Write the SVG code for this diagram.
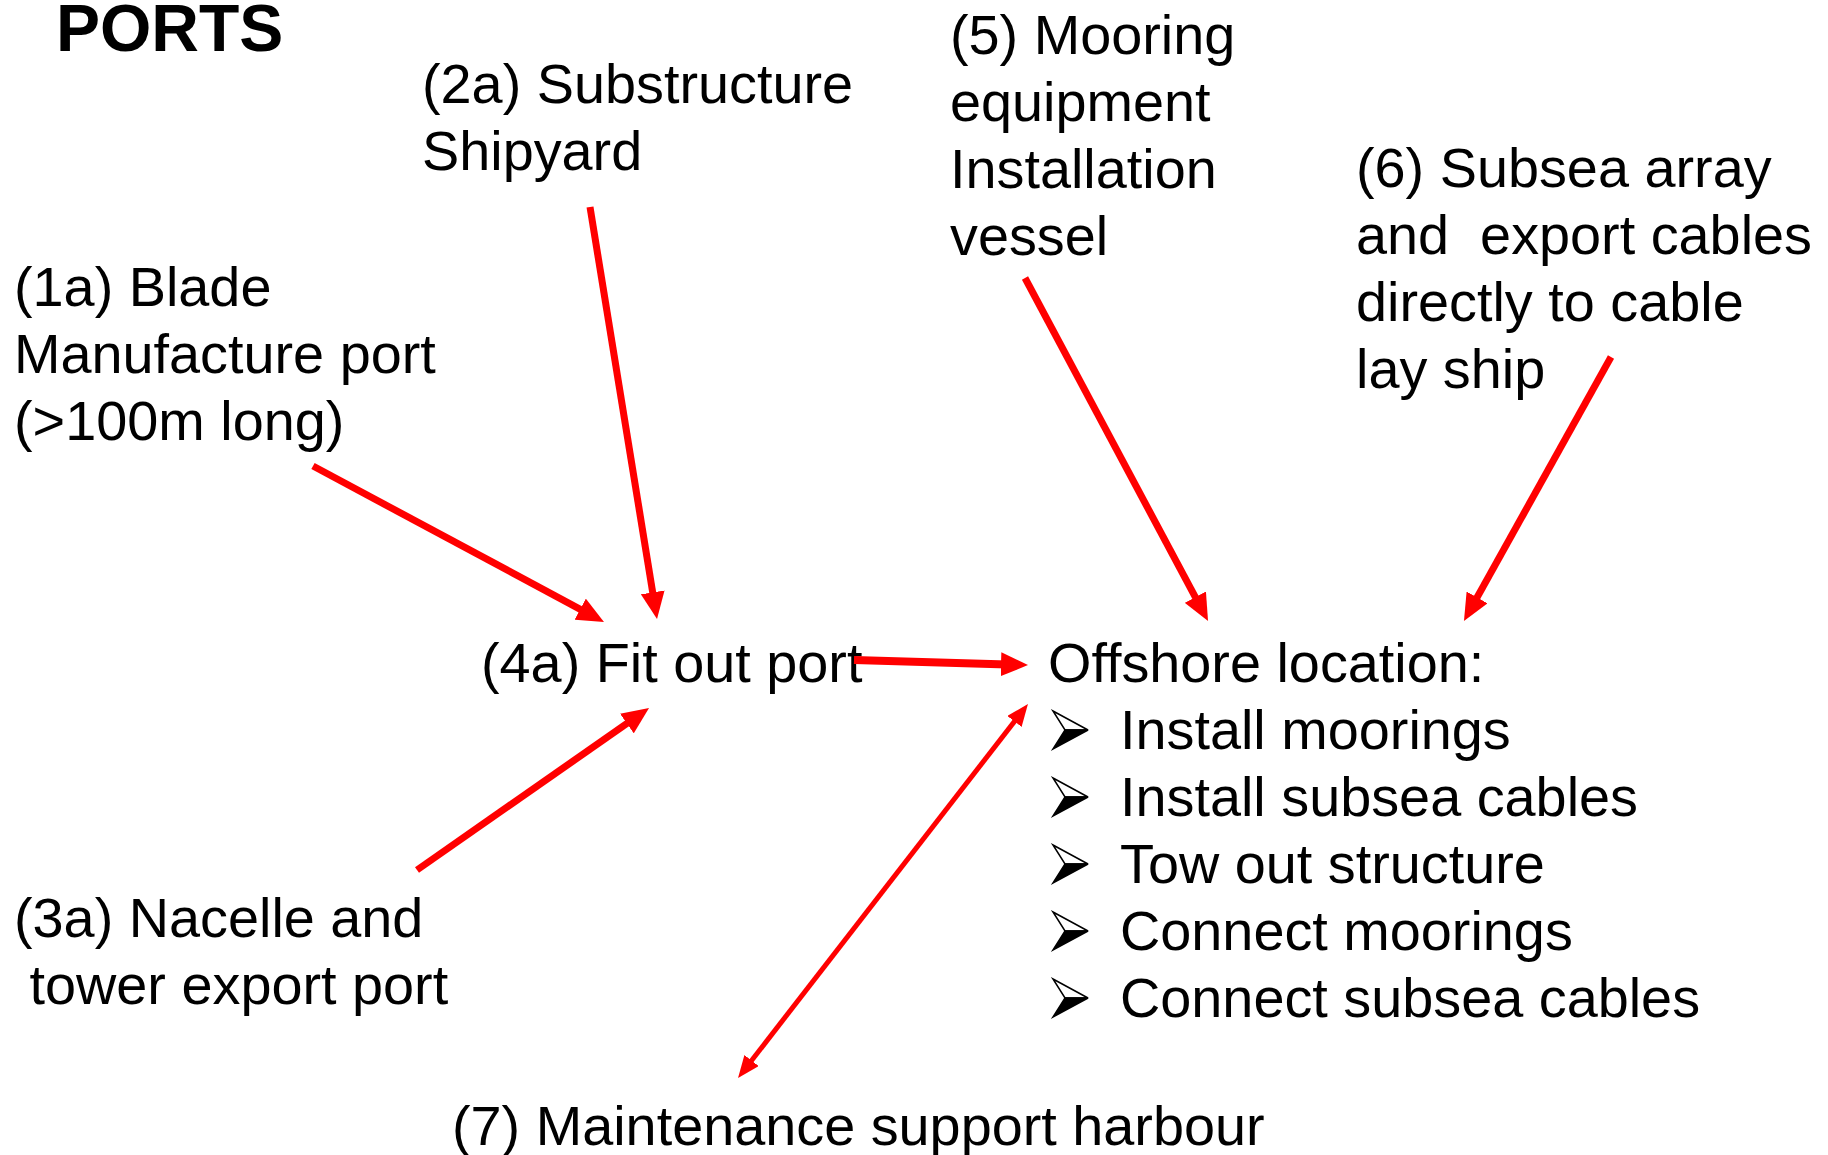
<svg xmlns="http://www.w3.org/2000/svg" width="1828" height="1155" viewBox="0 0 1828 1155">
<style>
  text { font-family: "Liberation Sans", Arial, sans-serif; font-size: 55.8px; fill: #000; white-space: pre; }
  .title { font-weight: bold; font-size: 66px; }
  .conn { stroke: #FF0000; stroke-width: 7; fill: none; }
  .bw { fill: #fff; stroke: #000; stroke-width: 1.5; stroke-linejoin: miter; }
  .bb { fill: #000; stroke: #000; stroke-width: 1.5; }
</style>
<defs>
  <marker id="ah" markerUnits="userSpaceOnUse" viewBox="0 0 27 24" markerWidth="27" markerHeight="24" refX="15" refY="12" orient="auto-start-reverse">
    <path d="M0,0 L27,12 L0,24 z" fill="#FF0000"/>
  </marker>
  <marker id="ah2" markerUnits="userSpaceOnUse" viewBox="0 0 22 18" markerWidth="22" markerHeight="18" refX="10" refY="9" orient="auto-start-reverse">
    <path d="M0,0 L22,9 L0,18 z" fill="#FF0000"/>
  </marker>
  <g id="bullet">
    <path class="bw" d="M0,-38 L35,-19 L12,-19 z"/>
    <path class="bb" d="M12,-19 L35,-19 L0,0 z"/>
  </g>
</defs>
<rect width="1828" height="1155" fill="#fff"/>

<g id="title"><text class="title" x="56" y="51">PORTS</text></g>

<g id="node-1a">
  <text x="14" y="306">(1a) Blade</text>
  <text x="14" y="373">Manufacture port</text>
  <text x="14" y="440">(&gt;100m long)</text>
</g>
<g id="node-2a">
  <text x="422" y="103">(2a) Substructure</text>
  <text x="422" y="170">Shipyard</text>
</g>
<g id="node-3a">
  <text x="14" y="937">(3a) Nacelle and</text>
  <text x="14" y="1004"> tower export port</text>
</g>
<g id="node-4a">
  <text x="481" y="682">(4a) Fit out port</text>
</g>
<g id="node-5">
  <text x="950" y="54">(5) Mooring</text>
  <text x="950" y="121">equipment</text>
  <text x="950" y="188">Installation</text>
  <text x="950" y="255">vessel</text>
</g>
<g id="node-6">
  <text x="1356" y="187">(6) Subsea array</text>
  <text x="1356" y="254">and  export cables</text>
  <text x="1356" y="321">directly to cable</text>
  <text x="1356" y="388">lay ship</text>
</g>
<g id="node-offshore">
  <text x="1048" y="682">Offshore location:</text>
  <use href="#bullet" x="1053" y="749"/>
  <text x="1120" y="749">Install moorings</text>
  <use href="#bullet" x="1053" y="816"/>
  <text x="1120" y="816">Install subsea cables</text>
  <use href="#bullet" x="1053" y="883"/>
  <text x="1120" y="883">Tow out structure</text>
  <use href="#bullet" x="1053" y="950"/>
  <text x="1120" y="950">Connect moorings</text>
  <use href="#bullet" x="1053" y="1017"/>
  <text x="1120" y="1017">Connect subsea cables</text>
</g>
<g id="node-7">
  <text x="452" y="1145">(7) Maintenance support harbour</text>
</g>

<g id="connectors">
  <line class="conn" x1="313" y1="466" x2="593.4" y2="616.3" marker-end="url(#ah)"/>
  <line class="conn" x1="590" y1="207" x2="655.1" y2="607.2" marker-end="url(#ah)"/>
  <line class="conn" x1="417" y1="870" x2="639.2" y2="714.9" marker-end="url(#ah)"/>
  <line class="conn" style="stroke-width:8" x1="854" y1="660" x2="1016" y2="664.7" marker-end="url(#ah)"/>
  <line class="conn" x1="1025" y1="278" x2="1202.4" y2="610.4" marker-end="url(#ah)"/>
  <line class="conn" x1="1611" y1="357" x2="1469.8" y2="610.5" marker-end="url(#ah)"/>
  <line class="conn" style="stroke-width:5" x1="745.4" y1="1068.5" x2="1020.6" y2="713.5" marker-start="url(#ah2)" marker-end="url(#ah2)"/>
</g>
</svg>
